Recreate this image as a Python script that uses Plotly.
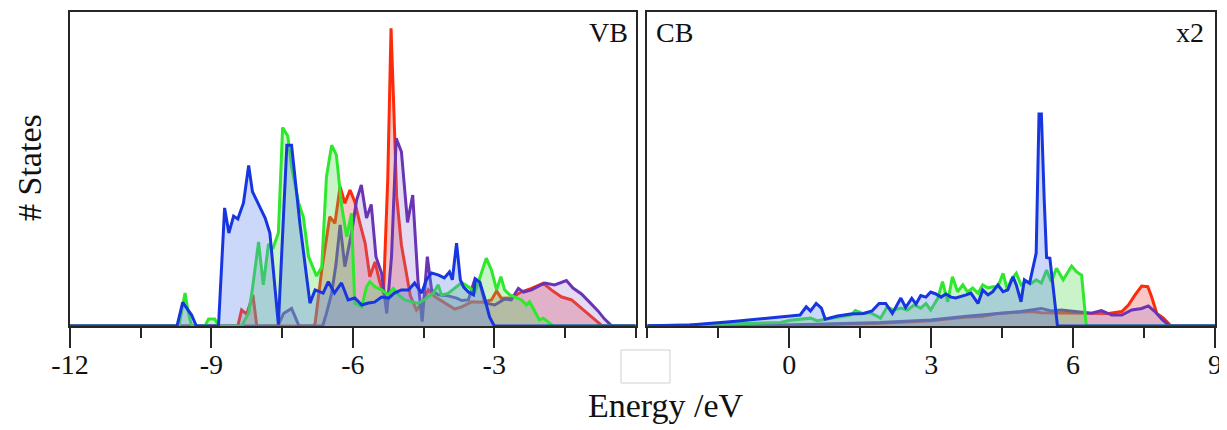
import plotly.graph_objects as go

# ---------------- data (energy in eV, DOS in arbitrary units) ----------------
# Valence band panel
vb_blue_x = [-12.0, -9.73, -9.61, -9.42, -9.32, -8.85, -8.72, -8.63, -8.53, -8.44, -8.32, -8.21, -8.13,
             -8.04, -7.86, -7.76, -7.62, -7.58, -7.40, -7.30, -7.12, -6.91, -6.80, -6.63, -6.52, -6.39,
             -6.24, -6.10, -5.96, -5.81, -5.67, -5.54, -5.39, -5.24, -5.12, -4.97, -4.82, -4.69, -4.54,
             -4.44, -4.33, -4.18, -4.06, -3.95, -3.89, -3.80, -3.72, -3.65, -3.55, -3.44, -3.40, -3.31,
             -3.21, -3.10, -3.00, 0.0]
vb_blue_y = [0, 0, 7.5, 3.5, 0, 0, 37.6, 29.6, 35.0, 34.1, 39.2, 51.1, 42.8,
             40.1, 34.4, 29.6, 5.0, 0.5, 57.6, 57.6, 32.2, 7.3, 11.5, 10.5, 14.1, 10.5,
             13.7, 8.3, 8.9, 6.7, 7.3, 7.6, 9.2, 8.9, 10.5, 11.5, 11.5, 13.7, 10.5,
             14.7, 16.9, 16.2, 15.3, 17.2, 14.7, 26.4, 14.7, 12.4, 10.8, 9.9, 15.0, 14.0,
             9.2, 2.9, 0, 0]

vb_green_x = [-12.0, -9.69, -9.56, -9.50, -9.42, -9.14, -9.06, -8.93, -8.84, -8.36, -8.21, -8.14, -8.00,
              -7.90, -7.79, -7.70, -7.58, -7.49, -7.38, -7.30, -7.15, -7.05, -6.94, -6.77, -6.66, -6.56,
              -6.45, -6.35, -6.24, -6.13, -6.03, -5.96, -5.81, -5.71, -5.64, -5.53, -5.39, -5.25, -5.14,
              -5.03, -4.90, -4.75, -4.61, -4.40, -4.29, -4.19, -4.12, -3.98, -3.80, -3.69, -3.55, -3.41,
              -3.31, -3.17, -3.06, -2.95, -2.86, -2.78, -2.67, -2.57, -2.42, -2.32, -2.25, -2.14, -2.04,
              -1.96, -1.86, -1.75, 0.0]
vb_green_y = [0, 0, 10.5, 5.1, 0, 0, 2.2, 2.2, 0, 0, 4.1, 10.8, 26.8,
              13.1, 26.1, 24.5, 29.6, 63.2, 60.5, 50.6, 39.2, 34.7, 22.1, 15.9, 18.8, 47.5,
              57.6, 54.5, 38.5, 28.4, 35.9, 7.2, 6.1, 12.5, 14.1, 12.5, 11.5, 9.9, 12.0,
              9.9, 8.3, 7.7, 7.2, 9.3, 10.5, 13.1, 9.9, 10.4, 12.5, 13.8, 12.5, 10.9,
              15.2, 21.6, 17.8, 11.5, 15.7, 11.5, 9.9, 9.3, 8.3, 6.7, 7.7, 4.6, 1.9,
              2.5, 1.4, 0, 0]

vb_red_x = [-12.0, -8.44, -8.36, -8.25, -8.12, -8.04, -7.99, -6.83, -6.80, -6.66, -6.49, -6.38, -6.27,
            -6.17, -6.06, -5.96, -5.85, -5.74, -5.64, -5.53, -5.43, -5.35, -5.26, -5.19, -5.13, -5.07,
            -4.97, -4.86, -4.78, -4.65, -4.54, -4.40, -4.26, -4.12, -3.98, -3.84, -3.69, -3.48, -3.27,
            -3.06, -2.95, -2.85, -2.64, -2.42, -2.21, -1.96, -1.79, -1.58, -1.36, -1.15, -0.94, -0.73,
            -0.67, 0.0]
vb_red_y = [0, 0, 5.1, 3.8, 9.9, 0.3, 0, 0, 0.9, 17.8, 34.8, 32.7, 44.4,
            39.1, 43.3, 39.6, 32.7, 26.4, 15.7, 20.4, 14.1, 10.4, 46.5, 94.8, 68.8, 41.2,
            25.8, 15.7, 9.6, 5.1, 7.2, 11.5, 9.3, 8.0, 6.7, 5.4, 6.1, 7.7, 7.6,
            8.3, 11.2, 8.8, 8.9, 10.9, 12.0, 13.6, 11.5, 9.3, 8.3, 5.6, 3.0, 0.3,
            0, 0]

vb_purple_x = [-12.0, -7.59, -7.47, -7.30, -7.15, -7.13, -6.64, -6.56, -6.45, -6.36, -6.27, -6.17, -6.03,
               -5.92, -5.82, -5.71, -5.61, -5.51, -5.39, -5.28, -5.18, -5.08, -4.97, -4.84, -4.73, -4.62,
               -4.53, -4.42, -4.33, -4.19, -3.98, -3.80, -3.69, -3.55, -3.41, -3.31, -3.20, -2.99, -2.78,
               -2.64, -2.49, -2.38, -2.21, -1.93, -1.72, -1.47, -1.33, -1.15, -0.98, -0.80, -0.66, -0.52,
               -0.47, 0.0]
vb_purple_y = [0, 0, 4.0, 5.6, 0.3, 0, 0, 4.0, 10.4, 19.4, 32.2, 18.9, 29.5,
               40.1, 44.9, 34.4, 38.7, 22.1, 16.8, 4.0, 22.1, 59.8, 55.5, 33.0, 41.7, 14.7,
               1.4, 22.1, 11.5, 9.9, 9.6, 8.9, 8.1, 8.3, 15.0, 14.0, 7.3, 6.7, 8.6,
               8.3, 12.0, 10.8, 11.5, 13.7, 13.1, 14.5, 12.1, 10.2, 7.6, 4.8, 2.2, 0.2,
               0, 0]

# Conduction band panel (shown x2)
cb_blue_x = [-3.0, -2.10, -1.19, -0.19, 0.02, 0.23, 0.36, 0.45, 0.57, 0.68, 0.76, 1.02, 1.30, 1.57,
             1.75, 1.90, 2.04, 2.18, 2.36, 2.46, 2.59, 2.68, 2.78, 2.89, 2.99, 3.10, 3.21, 3.31,
             3.42, 3.52, 3.63, 3.74, 3.84, 3.99, 4.09, 4.20, 4.30, 4.41, 4.52, 4.62, 4.73, 4.80,
             4.90, 4.97, 5.08, 5.15, 5.22, 5.28, 5.33, 5.39, 5.44, 5.51, 5.61, 5.67, 9.0]
cb_blue_y = [0.1, 0.3, 1.4, 2.7, 3.2, 3.5, 6.1, 4.8, 7.2, 5.7, 2.2, 3.2, 3.8, 4.0,
             4.8, 7.2, 7.2, 4.0, 8.9, 5.9, 8.8, 7.0, 9.7, 9.2, 10.8, 10.2, 9.2, 10.2,
             9.2, 8.9, 9.3, 9.9, 10.5, 7.2, 11.5, 9.9, 10.9, 13.1, 10.9, 11.5, 15.7, 13.1,
             7.7, 14.7, 13.6, 18.9, 23.2, 67.5, 67.5, 40.1, 21.8, 21.6, 9.3, 0, 0]

cb_green_x = [-3.0, -1.46, -0.19, 0.02, 0.23, 0.45, 0.59, 0.76, 1.01, 1.30, 1.40, 1.55, 1.72, 1.85,
              1.93, 2.07, 2.21, 2.36, 2.50, 2.64, 2.78, 2.89, 2.99, 3.14, 3.24, 3.35, 3.45, 3.56,
              3.67, 3.77, 3.88, 3.99, 4.09, 4.20, 4.30, 4.41, 4.52, 4.61, 4.69, 4.80, 4.90, 5.01,
              5.12, 5.22, 5.33, 5.44, 5.54, 5.65, 5.79, 5.97, 6.07, 6.18, 6.28, 9.0]
cb_green_y = [0, 0.5, 1.1, 1.8, 2.1, 2.5, 1.7, 2.2, 2.8, 3.5, 4.9, 4.0, 4.2, 3.2,
              2.5, 6.1, 5.1, 5.7, 5.1, 6.7, 5.7, 7.2, 5.1, 8.8, 14.1, 7.7, 15.7, 10.9,
              13.1, 10.9, 12.1, 10.4, 13.1, 12.1, 12.5, 12.5, 16.8, 11.5, 14.7, 16.8, 13.1, 14.1,
              13.6, 14.7, 13.7, 17.8, 14.1, 18.4, 14.7, 19.1, 17.3, 16.2, 0, 0]

cb_red_x = [-3.0, 0.0, 1.93, 2.99, 3.70, 4.06, 4.41, 5.12, 5.33, 5.54, 5.75, 5.97, 6.39, 6.75,
            7.03, 7.17, 7.31, 7.45, 7.58, 7.66, 7.77, 7.91, 8.05, 8.10, 9.0]
cb_red_y = [0, 0.2, 0.9, 1.7, 2.8, 3.0, 4.0, 4.6, 4.2, 4.2, 4.2, 4.2, 4.2, 4.0,
            4.6, 6.7, 9.9, 12.7, 12.5, 9.3, 4.0, 2.5, 0.3, 0, 0]

cb_purple_x = [-3.0, 0.0, 1.93, 2.99, 3.70, 4.41, 4.90, 5.33, 5.54, 5.75, 5.97, 6.18, 6.39, 6.60,
               6.82, 7.03, 7.24, 7.45, 7.59, 7.73, 7.88, 8.02, 8.05, 9.0]
cb_purple_y = [0, 0.3, 1.1, 1.9, 3.0, 4.0, 4.6, 5.6, 4.8, 5.1, 4.8, 4.6, 4.1, 4.9,
               3.5, 3.5, 5.1, 5.6, 6.4, 4.6, 2.1, 0.3, 0, 0]

vb_ticks = [-12, -9, -6, -3]
cb_ticks = [0, 3, 6, 9]

# ---------------- styling ----------------
FONT = "Liberation Serif"
AX = "#262626"
styles = {
    "red": ("#ff2a0a", "rgba(238,80,80,0.32)"),
    "purple": ("#6a35b5", "rgba(150,115,205,0.26)"),
    "green": ("#2ee82e", "rgba(80,215,80,0.30)"),
    "blue": ("#1736e0", "rgba(95,135,235,0.32)"),
}

fig = go.Figure()

panels = [
    ("x", "y", {"red": (vb_red_x, vb_red_y), "purple": (vb_purple_x, vb_purple_y),
                "green": (vb_green_x, vb_green_y), "blue": (vb_blue_x, vb_blue_y)}),
    ("x2", "y2", {"red": (cb_red_x, cb_red_y), "purple": (cb_purple_x, cb_purple_y),
                  "green": (cb_green_x, cb_green_y), "blue": (cb_blue_x, cb_blue_y)}),
]
for xa, ya, series in panels:
    for name in ["red", "purple", "green", "blue"]:
        xs, ys = series[name]
        line_c, fill_c = styles[name]
        fig.add_trace(go.Scatter(x=xs, y=ys, xaxis=xa, yaxis=ya, mode="lines",
                                 line=dict(color=line_c, width=3), fill="tozeroy",
                                 fillcolor=fill_c, showlegend=False, hoverinfo="skip"))

# The page body adds an 8 px offset; lay out in window pixels minus that offset.
OFF = 8
W, H = 1227 - OFF, 430 - OFF

def px(x):
    return (x - OFF) / W

def py(y):
    return 1 - (y - OFF) / H

ydom = [py(326), py(12)]

def xaxis_style(rng, ticks, dom):
    return dict(range=rng, domain=dom, tickvals=ticks, ticktext=[str(t) for t in ticks],
                ticks="outside", ticklen=20, tickwidth=1.5, tickcolor=AX,
                minor=dict(dtick=1.5, tick0=0, ticks="outside", ticklen=10, tickwidth=1.5, tickcolor=AX),
                showline=True, linecolor=AX, linewidth=1.5, mirror=True,
                showgrid=False, zeroline=False, ticklabelstandoff=-7, automargin=False,
                tickfont=dict(family=FONT, size=28, color="#111"))

def yaxis_style(anchor):
    return dict(range=[0, 100], domain=ydom, anchor=anchor, showticklabels=False, ticks="",
                showline=True, linecolor=AX, linewidth=1.5, mirror=True, automargin=False,
                showgrid=False, zeroline=False)

fig.update_layout(
    width=W, height=H, margin=dict(l=0, r=0, t=0, b=0, pad=0, autoexpand=False),
    paper_bgcolor="white", plot_bgcolor="white",
    xaxis=xaxis_style([-12, 0], vb_ticks, [px(70), px(635.7)]) | dict(anchor="y"),
    xaxis2=xaxis_style([-3, 9], cb_ticks, [px(647.3), px(1215)]) | dict(anchor="y2"),
    yaxis=yaxis_style("x"),
    yaxis2=yaxis_style("x2"),
    showlegend=False,
)

ann_font = dict(family=FONT, size=28, color="#111")
fig.add_annotation(text="VB", xref="paper", yref="paper", x=px(630), y=py(32),
                   xanchor="right", yanchor="middle", showarrow=False, font=ann_font)
fig.add_annotation(text="CB", xref="paper", yref="paper", x=px(654), y=py(32),
                   xanchor="left", yanchor="middle", showarrow=False, font=ann_font)
fig.add_annotation(text="x2", xref="paper", yref="paper", x=px(1206), y=py(32),
                   xanchor="right", yanchor="middle", showarrow=False, font=ann_font)
fig.add_annotation(text="Energy /eV", xref="paper", yref="paper", x=px(666), y=py(405),
                   xanchor="center", yanchor="middle", showarrow=False,
                   font=dict(family=FONT, size=34, color="#111"))
fig.add_annotation(text="# States", xref="paper", yref="paper", x=px(30), y=py(168),
                   xanchor="center", yanchor="middle", showarrow=False, textangle=-90,
                   font=dict(family=FONT, size=34, color="#111"))

# small empty box seen below the panels in the reference
fig.add_shape(type="rect", xref="paper", yref="paper", x0=px(621), x1=px(670),
              y0=py(383), y1=py(350), line=dict(color="#d0d0d0", width=1),
              fillcolor="white")

fig.write_html("out.html")
